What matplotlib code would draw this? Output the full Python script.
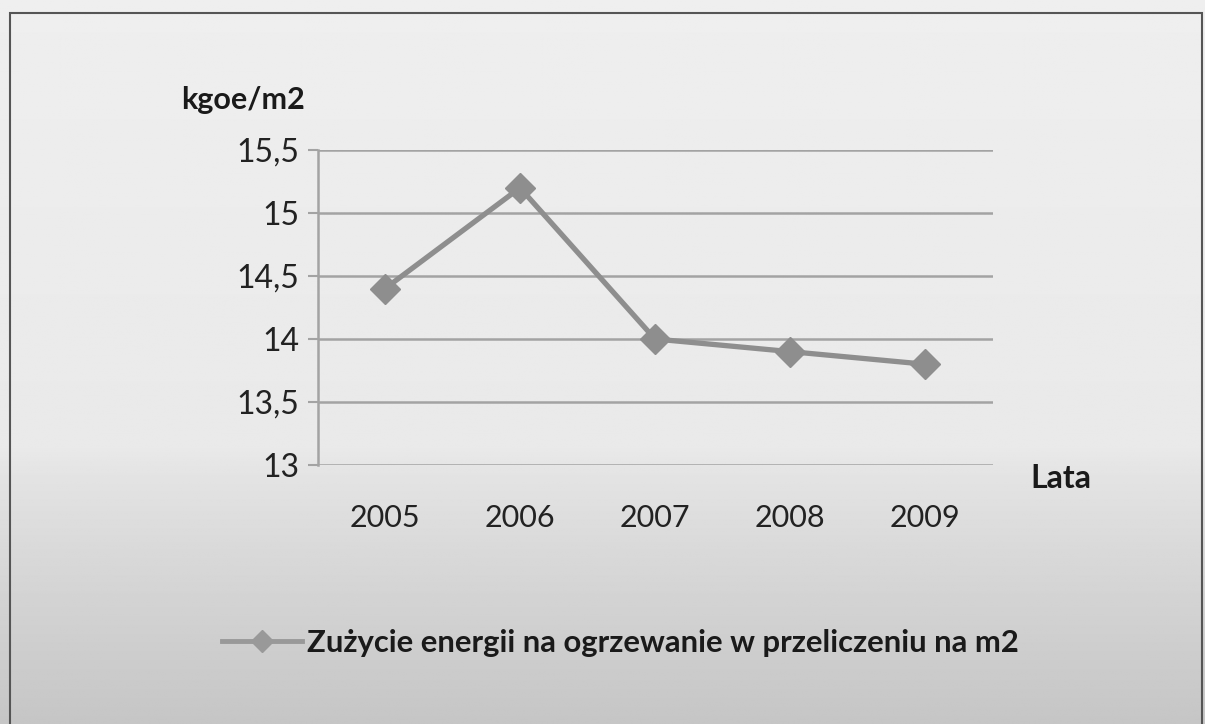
import numpy as np
import matplotlib
matplotlib.use("Agg")
import matplotlib.pyplot as plt
from matplotlib.lines import Line2D
from matplotlib.patches import Rectangle

years = ["2005", "2006", "2007", "2008", "2009"]
values = [14.4, 15.2, 14.0, 13.9, 13.8]
yticks = [13, 13.5, 14, 14.5, 15, 15.5]
ytick_labels = ["13", "13,5", "14", "14,5", "15", "15,5"]
series_name = "Zużycie energii na ogrzewanie w przeliczeniu na m2"
y_title = "kgoe/m2"
x_title = "Lata"

W, H = 1205, 724
fig = plt.figure(figsize=(W / 100, H / 100), dpi=100)
plt.rcParams['font.family'] = ['Lato', 'DejaVu Sans']

# background gradient
bg = fig.add_axes([0, 0, 1, 1], zorder=-10)
rows = np.linspace(0, 1, 400)
tone = np.where(rows < 0.62, 0.935 - 0.02 * rows / 0.62,
                0.915 - 0.14 * ((rows - 0.62) / 0.38) ** 0.8)
grad = np.tile(tone[:, None], (1, 10))
bg.imshow(grad, cmap="gray", vmin=0, vmax=1, aspect="auto",
          extent=[0, 1, 0, 1], origin="upper")
bg.set_xlim(0, 1)
bg.set_ylim(0, 1)
bg.axis("off")
# frame
bg.add_patch(Rectangle((10 / W, -0.01), (1202 - 10) / W, (H - 13) / H + 0.01,
                       fill=False, edgecolor="#555555", linewidth=1.5))

ax = fig.add_axes([317.5 / W, 1 - 465 / H, 675 / W, 315 / H])
ax.patch.set_alpha(0)
x = np.arange(len(years))
ax.plot(x, values, color="#8e8e8e", linewidth=3.8, marker="D",
        markersize=15, markerfacecolor="#8e8e8e", markeredgecolor="#8e8e8e",
        zorder=3)
ax.set_xlim(-0.5, len(years) - 0.5)
ax.set_ylim(13, 15.5)
ax.set_yticks(yticks)
ax.set_yticklabels(ytick_labels, fontsize=23, color="#222222")
ax.set_xticks(x)
ax.set_xticklabels(years, fontsize=22, color="#222222")
ax.grid(axis="y", color="#a3a3a3", linewidth=1.8, zorder=1)
ax.tick_params(axis="y", length=7, width=1.5, color="#a3a3a3", pad=6)
ax.tick_params(axis="x", length=0, pad=28)
for s in ["top", "right", "bottom"]:
    ax.spines[s].set_visible(False)
ax.spines["left"].set_color("#a3a3a3")
ax.spines["left"].set_linewidth(1.8)

fig.text(305 / W, 1 - 100 / H, y_title, fontsize=22, fontweight="bold",
         ha="right", va="center", color="#1a1a1a")
fig.text(1030 / W, 1 - 479 / H, x_title, fontsize=23, fontweight="bold",
         ha="left", va="center", color="#1a1a1a")

handle = Line2D([], [], color="#999999", linewidth=3.5, marker="D",
                markersize=11, markerfacecolor="#999999", markeredgecolor="#999999")
fig.legend([handle], [series_name], loc="center", bbox_to_anchor=(620 / W, 1 - 643 / H),
           frameon=False, prop={"size": 22.3, "weight": "bold"}, handlelength=2.6,
           handletextpad=0.15, labelcolor="#1a1a1a")

fig.savefig("out.png", dpi=100)
